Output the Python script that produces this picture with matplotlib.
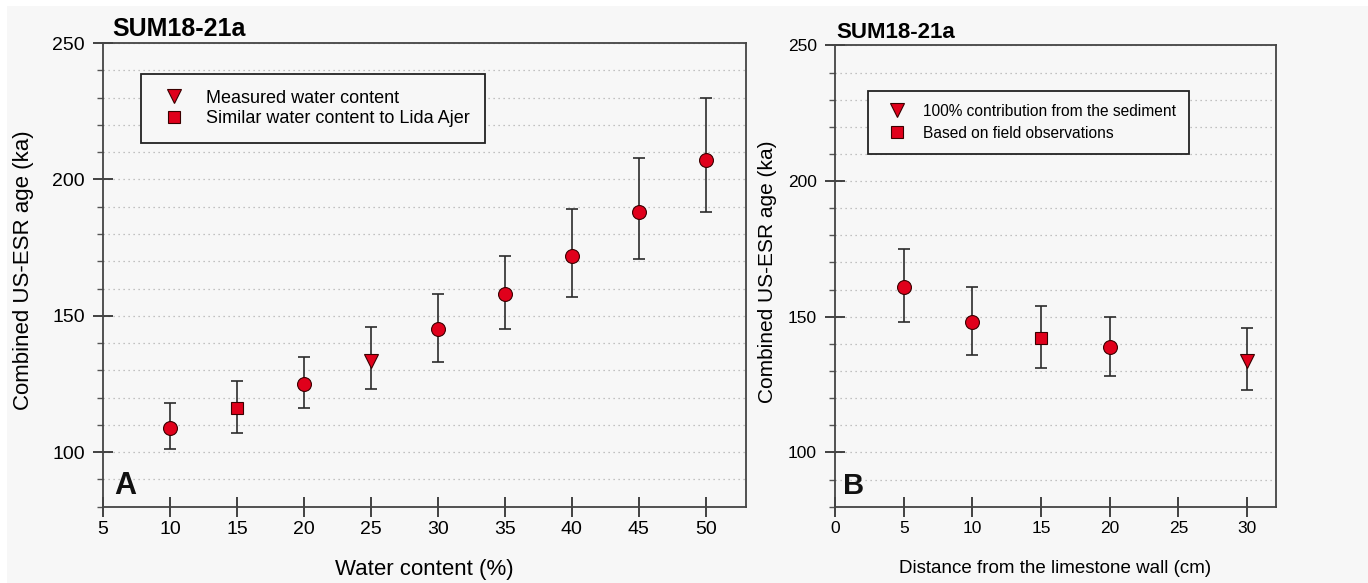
import matplotlib
matplotlib.use("Agg")
import matplotlib.pyplot as plt
from matplotlib.lines import Line2D
from matplotlib.patches import Rectangle
from matplotlib.ticker import MultipleLocator

# Panel A: water content
water = [10, 15, 20, 25, 30, 35, 40, 45, 50]
age_a = [109, 116, 125, 133.5, 145, 158, 172, 188, 207]
low_a = [101, 107, 116, 123, 133, 145, 157, 171, 188]
high_a = [118, 126, 135, 146, 158, 172, 189, 208, 230]
mark_a = ["o", "s", "o", "v", "o", "o", "o", "o", "o"]

# Panel B: distance from wall
dist = [5, 10, 15, 20, 30]
age_b = [161, 148, 142, 139, 133.5]
low_b = [148, 136, 131, 128, 123]
high_b = [175, 161, 154, 150, 146]
mark_b = ["o", "o", "s", "o", "v"]

legend_a = ["Measured water content", "Similar water content to Lida Ajer"]
legend_b = ["100% contribution from the sediment", "Based on field observations"]

BG = "#f7f7f7"
RED = "#e0001b"
DARK = "#2b2b2b"
SIZES = {"o": 10, "s": 8, "v": 9.5}

plt.rcParams["font.family"] = ["Liberation Sans", "DejaVu Sans"]

fig = plt.figure(figsize=(13.68, 5.83), dpi=100, facecolor="white")
fig.patches.append(Rectangle((0.005, 0.0), 0.995, 0.99, transform=fig.transFigure,
                             facecolor=BG, edgecolor="none", zorder=-10))
ax_a = fig.add_axes([0.0753, 0.131, 0.470, 0.795])
ax_b = fig.add_axes([0.6104, 0.131, 0.3223, 0.791])


def draw(ax, xs, ys, lo, hi, marks):
    for x, y, l, h, m in zip(xs, ys, lo, hi, marks):
        ax.errorbar([x], [y], yerr=[[y - l], [h - y]], fmt="none", ecolor=DARK,
                    elinewidth=1.2, capsize=4.3, capthick=1.2, zorder=2)
        ax.plot([x], [y], marker=m, ms=SIZES[m], mfc=RED, mec="#3a0000",
                mew=0.8, ls="none", zorder=3)


def style(ax, xlim, xticks, xlabel, letter, title, title_dx, fs):
    ax.set_facecolor(BG)
    ax.set_xlim(*xlim)
    ax.set_ylim(80, 250)
    ax.set_xticks(xticks)
    ax.yaxis.set_major_locator(MultipleLocator(50))
    ax.yaxis.set_minor_locator(MultipleLocator(10))
    ax.yaxis.grid(True, which="both", linestyle=(0, (1, 3)), color="#b0b0b0", lw=0.9)
    ax.set_axisbelow(True)
    for s in ax.spines.values():
        s.set_color("#444444")
        s.set_linewidth(1.3)
    ax.tick_params(which="major", direction="inout", length=14, width=1.3,
                   color="#333333", labelsize=fs["tick"], pad=3)
    ax.tick_params(axis="y", which="major", pad=6)
    ax.tick_params(axis="y", which="minor", direction="out", length=4, width=1,
                   color="#555555")
    ax.set_xlabel(xlabel, fontsize=fs["xlabel"])
    ax.set_ylabel("Combined US-ESR age (ka)", fontsize=fs["ylabel"])
    ax.xaxis.set_label_coords(0.5, fs["xlab_y"])
    ax.yaxis.set_label_coords(fs["ylab_x"], 0.51)
    ax.text(0.018, 0.028, letter, transform=ax.transAxes, fontsize=fs["letter"],
            fontweight="bold", ha="left", va="baseline", color="#111111")
    ax.text(title_dx, 1.016, title, transform=ax.transAxes, fontsize=fs["title"],
            fontweight="bold", ha="left", va="baseline")


def legend(ax, labels, anchor, size, tpad, lspace):
    handles = [
        Line2D([], [], marker="v", ms=10, mfc=RED, mec="#3a0000", mew=0.8, ls="none"),
        Line2D([], [], marker="s", ms=8, mfc=RED, mec="#3a0000", mew=0.8, ls="none"),
    ]
    leg = ax.legend(handles, labels, loc="upper left", bbox_to_anchor=anchor,
                    fontsize=size, frameon=True, fancybox=False, framealpha=1,
                    facecolor=BG, edgecolor="#222222", borderpad=0.85,
                    handlelength=2.0, handletextpad=tpad, labelspacing=lspace,
                    borderaxespad=0)
    leg.get_frame().set_linewidth(1.3)


fs_a = {"tick": 14, "xlabel": 16, "ylabel": 16, "letter": 22, "title": 18,
        "xlab_y": -0.112, "ylab_x": -0.107}
fs_b = {"tick": 12.5, "xlabel": 13.5, "ylabel": 15, "letter": 21, "title": 16,
        "xlab_y": -0.115, "ylab_x": -0.131}

draw(ax_a, water, age_a, low_a, high_a, mark_a)
style(ax_a, (5, 53), [5, 10, 15, 20, 25, 30, 35, 40, 45, 50],
      "Water content (%)", "A", "SUM18-21a", 0.014, fs_a)
legend(ax_a, legend_a, (0.059, 0.933), 13, 0.75, 0.2)

draw(ax_b, dist, age_b, low_b, high_b, mark_b)
style(ax_b, (0, 32.1), [0, 5, 10, 15, 20, 25, 30],
      "Distance from the limestone wall (cm)", "B", "SUM18-21a", 0.002, fs_b)
legend(ax_b, legend_b, (0.075, 0.902), 11.2, 0.65, 0.45)

fig.savefig("out.png", dpi=100, facecolor="white")
